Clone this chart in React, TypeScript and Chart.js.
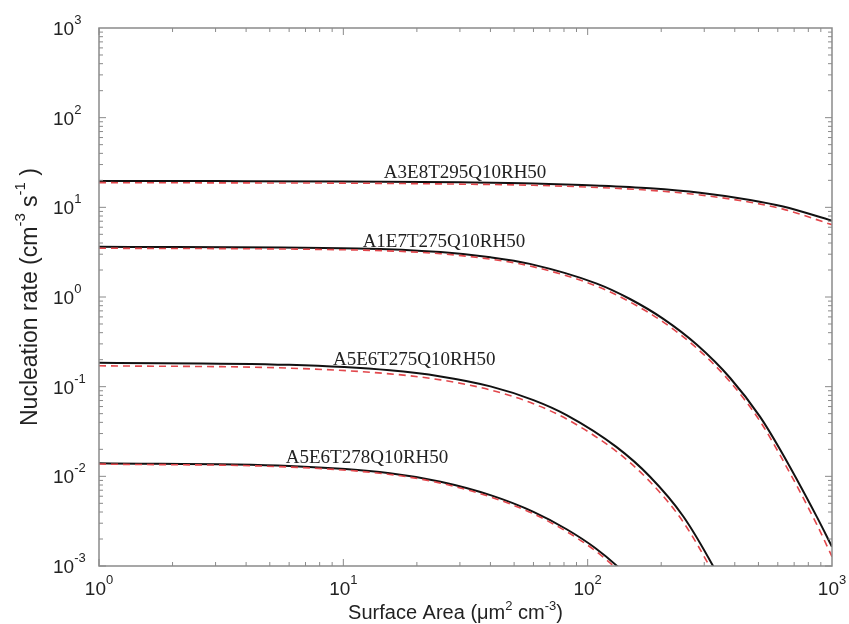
import React, { useEffect, useRef } from "react";
import { Chart, registerables } from "chart.js";

Chart.register(...registerables);

// ---- data ----
const xVals1 = [1, 3, 10, 30, 60, 112, 180, 288, 462, 631, 1000];
const black1 = [19.7, 19.62, 19.45, 19.0, 18.5, 17.44, 16.3, 14.55, 12.1, 10.2, 7.1];
const red1 = [18.85, 18.75, 18.6, 18.15, 17.6, 16.6, 15.5, 13.75, 11.4, 9.55, 6.4];

const xVals2 = [1, 11.4, 25, 40, 58, 109, 149, 204, 280, 383, 508, 613, 867, 1000];
const black2 = [3.64, 3.48, 3.17, 2.77, 2.34, 1.41, 0.95, 0.57, 0.293, 0.125, 0.046, 0.0199, 0.00353, 0.00164];
const red2 = [3.5, 3.34, 3.04, 2.64, 2.22, 1.32, 0.88, 0.525, 0.268, 0.113, 0.041, 0.0172, 0.0029, 0.00127];

const xVals3 = [1, 6, 15.5, 25, 40, 60, 82, 131, 180, 246, 326, 345];
const black3 = [0.185, 0.175, 0.152, 0.13, 0.1007, 0.0708, 0.0482, 0.0213, 0.0099, 0.00359, 0.001, 0.00074];
const red3 = [0.171, 0.161, 0.139, 0.119, 0.092, 0.0645, 0.0436, 0.019, 0.0087, 0.0031, 0.00084, 0.00062];

const xVals4 = [1, 6, 15.5, 25, 40, 60, 82, 107, 133, 145];
const black4 = [0.014, 0.01303, 0.01083, 0.00871, 0.00617, 0.00402, 0.00257, 0.0016, 0.00098, 0.00077];
const red4 = [0.0137, 0.0127, 0.0105, 0.0084, 0.0059, 0.00382, 0.00242, 0.00149, 0.0009, 0.0007];

const curveNames = ["A3E8T295Q10RH50", "A1E7T275Q10RH50", "A5E6T275Q10RH50", "A5E6T278Q10RH50"];
const labelX = [31.5, 25.8, 19.5, 12.5];
const labelY = [21.2, 3.61, 0.175, 0.0141];

const xTickExps = [0, 1, 2, 3];
const yTickExps = [-3, -2, -1, 0, 1, 2, 3];

const SANS = '"Liberation Sans", Arial, Helvetica, sans-serif';
const SERIF = '"Liberation Serif", "Times New Roman", serif';

type Part = { t: string; sup?: boolean };

function richWidth(ctx: CanvasRenderingContext2D, parts: Part[], size: number, supSize: number) {
  let w = 0;
  for (const p of parts) {
    ctx.font = `${p.sup ? supSize : size}px ${SANS}`;
    w += ctx.measureText(p.t).width;
  }
  return w;
}

function drawRich(
  ctx: CanvasRenderingContext2D,
  parts: Part[],
  x: number,
  y: number,
  size: number,
  supSize: number,
  supRaise: number
) {
  let cx = x;
  for (const p of parts) {
    ctx.font = `${p.sup ? supSize : size}px ${SANS}`;
    ctx.fillText(p.t, cx, p.sup ? y - supRaise : y);
    cx += ctx.measureText(p.t).width;
  }
}

const decorPlugin = {
  id: "decor",
  afterDatasetsDraw(chart: any) {
    const ctx: CanvasRenderingContext2D = chart.ctx;
    const a = chart.chartArea;
    const xs = chart.scales.x;
    const ys = chart.scales.y;
    ctx.save();
    // frame
    ctx.strokeStyle = "#8a8a8a";
    ctx.lineWidth = 1.5;
    ctx.strokeRect(a.left, a.top, a.right - a.left, a.bottom - a.top);
    // inward ticks
    ctx.lineWidth = 1;
    ctx.beginPath();
    for (let d = 0; d < 3; d++) {
      for (let m = 1; m <= 9; m++) {
        const v = m * Math.pow(10, d);
        const px = xs.getPixelForValue(v);
        const len = m === 1 ? 7 : 4;
        ctx.moveTo(px, a.bottom);
        ctx.lineTo(px, a.bottom - len);
        ctx.moveTo(px, a.top);
        ctx.lineTo(px, a.top + len);
      }
    }
    for (let d = -3; d < 3; d++) {
      for (let m = 1; m <= 9; m++) {
        const v = m * Math.pow(10, d);
        const py = ys.getPixelForValue(v);
        const len = m === 1 ? 7 : 4;
        ctx.moveTo(a.left, py);
        ctx.lineTo(a.left + len, py);
        ctx.moveTo(a.right, py);
        ctx.lineTo(a.right - len, py);
      }
    }
    ctx.stroke();

    // tick labels
    ctx.fillStyle = "#222";
    ctx.textBaseline = "alphabetic";
    ctx.textAlign = "left";
    for (const e of xTickExps) {
      const px = xs.getPixelForValue(Math.pow(10, e));
      const parts: Part[] = [{ t: "10" }, { t: String(e), sup: true }];
      const w = richWidth(ctx, parts, 19, 13);
      drawRich(ctx, parts, px - w / 2, a.bottom + 29, 19, 13, 11);
    }
    for (const e of yTickExps) {
      const py = ys.getPixelForValue(Math.pow(10, e));
      const parts: Part[] = [{ t: "10" }, { t: String(e), sup: true }];
      drawRich(ctx, parts, 53, py + 7, 19, 13, 11);
    }

    // axis titles
    const xt: Part[] = [{ t: "Surface Area (\u03bcm" }, { t: "2", sup: true }, { t: " cm" }, { t: "-3", sup: true }, { t: ")" }];
    const xw = richWidth(ctx, xt, 20, 13);
    drawRich(ctx, xt, (a.left + a.right) / 2 - 10 - xw / 2, 619, 20, 13, 9);

    const yt: Part[] = [
      { t: "Nucleation rate (cm" },
      { t: "-3", sup: true },
      { t: " s" },
      { t: "-1", sup: true },
      { t: " )" },
    ];
    const yw = richWidth(ctx, yt, 23, 15);
    ctx.save();
    ctx.translate(37, (a.top + a.bottom) / 2);
    ctx.rotate(-Math.PI / 2);
    drawRich(ctx, yt, -yw / 2, 0, 23, 15, 12);
    ctx.restore();

    // curve labels
    ctx.font = `19px ${SERIF}`;
    ctx.textAlign = "center";
    ctx.fillStyle = "#222";
    curveNames.forEach((n, i) => {
      ctx.fillText(n, xs.getPixelForValue(labelX[i]), ys.getPixelForValue(labelY[i]));
    });
    ctx.restore();
  },
};

function pts(xv: number[], yv: number[]) {
  return xv.map((x, i) => ({ x, y: yv[i] }));
}

export default function App() {
  const ref = useRef<HTMLCanvasElement | null>(null);
  useEffect(() => {
    document.body.style.margin = "0";
    if (!ref.current) return;
    const redStyle = {
      borderColor: "#e2474c",
      borderWidth: 1.6,
      borderDash: [7, 5],
      pointRadius: 0,
      fill: false,
      cubicInterpolationMode: "monotone" as const,
    };
    const blackStyle = {
      borderColor: "#111",
      borderWidth: 2,
      pointRadius: 0,
      fill: false,
      cubicInterpolationMode: "monotone" as const,
    };
    const chart = new Chart(ref.current, {
      type: "line",
      data: {
        datasets: [
          { label: "r1", data: pts(xVals1, red1), ...redStyle },
          { label: "r2", data: pts(xVals2, red2), ...redStyle },
          { label: "r3", data: pts(xVals3, red3), ...redStyle },
          { label: "r4", data: pts(xVals4, red4), ...redStyle },
          { label: curveNames[0], data: pts(xVals1, black1), ...blackStyle },
          { label: curveNames[1], data: pts(xVals2, black2), ...blackStyle },
          { label: curveNames[2], data: pts(xVals3, black3), ...blackStyle },
          { label: curveNames[3], data: pts(xVals4, black4), ...blackStyle },
        ],
      },
      options: {
        animation: false,
        responsive: false,
        maintainAspectRatio: false,
        layout: { padding: { left: 99, top: 28, right: 17, bottom: 58 } },
        plugins: { legend: { display: false }, tooltip: { enabled: false } },
        scales: {
          x: { type: "logarithmic", min: 1, max: 1000, display: false },
          y: { type: "logarithmic", min: 0.001, max: 1000, display: false },
        },
      },
      plugins: [decorPlugin],
    });
    return () => chart.destroy();
  }, []);
  return (
    <div style={{ width: 849, height: 624, background: "#fff" }}>
      <canvas ref={ref} width={849} height={624} style={{ display: "block" }} />
    </div>
  );
}
